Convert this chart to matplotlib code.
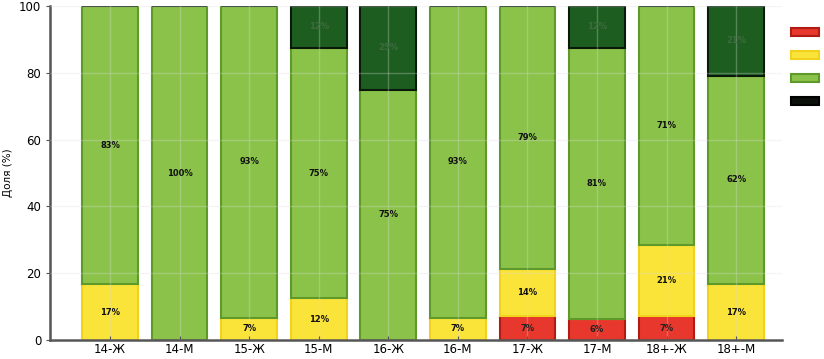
import matplotlib.pyplot as plt
from matplotlib.patches import Patch

groups = ['14-Ж', '14-М', '15-Ж', '15-М', '16-Ж', '16-М', '17-Ж', '17-М', '18+-Ж', '18+-М']
red = [0, 0, 0, 0, 0, 0, 7.1, 6.25, 7.1, 0]
yellow = [16.7, 0, 6.7, 12.5, 0, 6.7, 14.3, 0, 21.4, 16.7]
green = [83.3, 100, 93.3, 75, 75, 93.3, 78.6, 81.25, 71.4, 62.5]
dark = [0, 0, 0, 12.5, 25, 0, 0, 12.5, 0, 20.8]

series = [red, yellow, green, dark]
faces = ['#e8382d', '#fbe43a', '#8bc24a', '#1d5e20']
edges = ['#b01c14', '#f2d21c', '#5e9a2a', '#0a1a0a']
text_colors = ['#222222', '#111111', '#111111', '#3f6a3f']

fig, ax = plt.subplots(figsize=(8.24, 3.59), dpi=100)
fig.subplots_adjust(left=0.061, right=0.949, top=0.983, bottom=0.053)

x = list(range(len(groups)))
bottom = [0] * len(groups)
for vals, fc, ec, tc in zip(series, faces, edges, text_colors):
    ax.bar(x, vals, width=0.8, bottom=bottom, color=fc, edgecolor=ec, linewidth=1.5, zorder=2)
    for i, v in enumerate(vals):
        if v > 0:
            ax.text(i, bottom[i] + v / 2, f'{round(v)}%', ha='center', va='center',
                    fontsize=6, fontweight='bold', color=tc, zorder=4)
    bottom = [b + v for b, v in zip(bottom, vals)]

ax.set_xlim(-0.86, 9.66)
ax.set_ylim(0, 100)
ax.set_xticks(x)
ax.set_xticklabels(groups, fontsize=8.5)
ax.set_yticks([0, 20, 40, 60, 80, 100])
ax.tick_params(axis='y', labelsize=8.5, length=3, color='#555555')
ax.tick_params(axis='x', length=3, direction='in', color='#555555', pad=2)
ax.set_ylabel('Доля (%)', fontsize=7.5)
ax.grid(True, color='#dddddd', linewidth=1, alpha=0.3, zorder=3)
ax.set_axisbelow(False)
for s in ['top', 'right']:
    ax.spines[s].set_visible(False)
for s in ['left', 'bottom']:
    ax.spines[s].set_color('#555555')
    ax.spines[s].set_linewidth(1.8)

handles = [Patch(facecolor=fc, edgecolor=ec, linewidth=1.5) for fc, ec in zip(faces, edges)]
handles[3] = Patch(facecolor='#0a0f0a', edgecolor='#000000', linewidth=1.5)
ax.legend(handles, ['', '', '', ''], loc='upper left', bbox_to_anchor=(1.005, 0.958),
          frameon=False, handlelength=2.0, handleheight=0.55, labelspacing=0.65,
          handletextpad=0, borderaxespad=0)

fig.savefig('out.png')
